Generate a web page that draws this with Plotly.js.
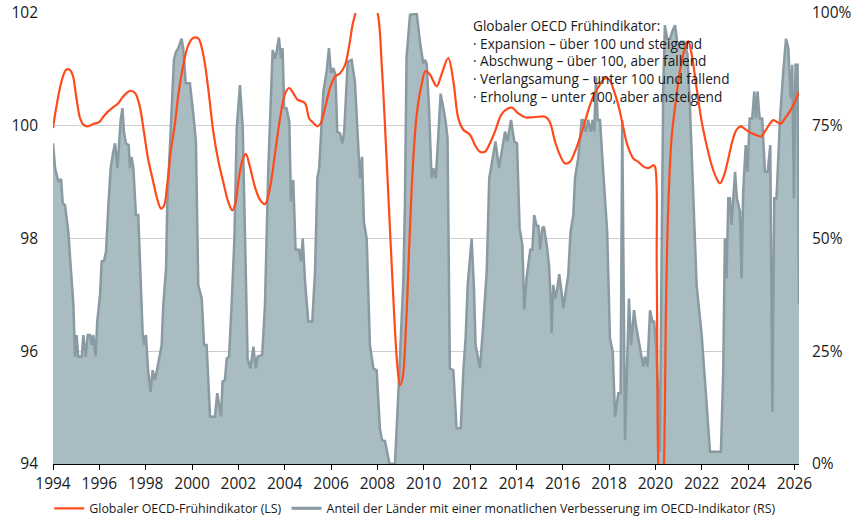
<!DOCTYPE html>
<html>
<head>
<meta charset="utf-8">
<script src="https://cdn.plot.ly/plotly-3.0.1.min.js"></script>
<style>html,body{margin:0;padding:0;background:#fff;}#chart{width:852px;height:519px;}</style>
</head>
<body>
<div id="chart"></div>
<script>
// Globaler OECD-Frühindikator (LS) (values beyond the axis range are estimates)
const cliYears = [1994.0,1994.16,1994.37,1994.56,1994.7,1994.85,1994.99,1995.17,1995.31,1995.48,1995.74,1996.0,1996.17,1996.39,1996.6,1996.82,1997.03,1997.32,1997.54,1997.73,1997.9,1998.11,1998.33,1998.5,1998.66,1998.79,1998.93,1999.07,1999.26,1999.41,1999.62,1999.84,2000.06,2000.27,2000.49,2000.7,2000.92,2001.14,2001.35,2001.57,2001.74,2001.86,2002.0,2002.17,2002.32,2002.5,2002.72,2002.93,2003.15,2003.37,2003.58,2003.8,2004.01,2004.19,2004.37,2004.56,2004.7,2004.88,2005.06,2005.24,2005.41,2005.55,2005.74,2005.95,2006.17,2006.39,2006.6,2006.79,2006.93,2007.08,2007.5,2008.0,2008.19,2008.37,2008.55,2008.72,2008.86,2008.98,2009.09,2009.24,2009.38,2009.52,2009.7,2009.91,2010.08,2010.27,2010.56,2010.77,2011.06,2011.28,2011.49,2011.71,2012.0,2012.21,2012.43,2012.64,2012.86,2013.08,2013.36,2013.65,2013.82,2014.08,2014.37,2014.66,2014.95,2015.24,2015.43,2015.67,2015.88,2016.1,2016.31,2016.53,2016.74,2016.96,2017.18,2017.39,2017.61,2017.82,2018.01,2018.18,2018.4,2018.59,2018.79,2019.05,2019.26,2019.48,2019.69,2019.84,2019.91,2019.98,2020.06,2020.13,2020.25,2020.37,2020.46,2020.56,2020.7,2020.87,2021.06,2021.28,2021.42,2021.57,2021.78,2022.0,2022.21,2022.43,2022.64,2022.79,2022.97,2023.15,2023.32,2023.51,2023.69,2023.9,2024.13,2024.37,2024.56,2024.73,2024.95,2025.09,2025.23,2025.42,2025.59,2025.81,2026.03,2026.2];
const cliValues = [99.96,100.37,100.79,100.99,101.0,100.9,100.55,100.13,100.02,99.99,100.03,100.07,100.16,100.26,100.33,100.4,100.52,100.62,100.58,100.37,99.96,99.4,99.0,98.7,98.53,98.58,98.95,99.5,100.03,100.55,101.07,101.43,101.56,101.55,101.25,100.66,99.89,99.37,99.0,98.64,98.5,98.6,99.0,99.38,99.5,99.27,98.91,98.69,98.61,98.91,99.5,100.13,100.56,100.67,100.58,100.46,100.44,100.4,100.13,100.05,99.99,100.04,100.31,100.66,100.87,100.93,101.07,101.43,101.79,102.03,102.6,102.03,101.07,99.66,98.12,96.7,95.76,95.4,95.53,96.47,97.89,99.19,100.2,100.73,100.97,100.91,100.7,100.91,101.2,100.79,100.14,99.93,99.84,99.66,99.54,99.54,99.69,99.9,100.2,100.31,100.32,100.22,100.15,100.15,100.16,100.16,100.08,99.72,99.48,99.33,99.36,99.54,99.78,100.07,100.37,100.58,100.73,100.84,100.82,100.66,100.37,100.02,99.66,99.42,99.36,99.28,99.25,99.28,99.3,99.28,97.41,93.98,93.0,94.0,96.82,98.6,99.78,100.4,100.97,101.38,101.5,101.26,100.67,100.07,99.66,99.3,99.07,98.98,99.13,99.42,99.72,99.93,99.99,99.93,99.87,99.83,99.81,99.9,100.04,100.1,100.07,100.04,100.13,100.26,100.43,100.6];

// Anteil der Länder mit einer monatlichen Verbesserung im OECD-Indikator (RS), in %
const shareYears = [1994.0,1994.09,1994.23,1994.35,1994.42,1994.52,1994.66,1994.76,1994.88,1994.95,1995.02,1995.09,1995.24,1995.31,1995.41,1995.5,1995.6,1995.67,1995.74,1995.84,1995.91,1996.03,1996.1,1996.2,1996.29,1996.39,1996.49,1996.6,1996.68,1996.78,1996.85,1996.92,1997.0,1997.06,1997.15,1997.27,1997.32,1997.39,1997.47,1997.58,1997.68,1997.78,1997.87,1997.94,1998.01,1998.11,1998.21,1998.3,1998.4,1998.5,1998.69,1998.76,1998.88,1998.93,1999.05,1999.14,1999.22,1999.31,1999.41,1999.55,1999.62,1999.73,1999.91,2000.06,2000.17,2000.27,2000.42,2000.52,2000.63,2000.78,2000.99,2001.09,2001.18,2001.25,2001.32,2001.42,2001.5,2001.6,2001.71,2001.83,2001.93,2002.07,2002.19,2002.29,2002.4,2002.52,2002.65,2002.75,2002.83,2003.03,2003.15,2003.29,2003.48,2003.58,2003.65,2003.75,2003.84,2003.91,2003.98,2004.08,2004.2,2004.27,2004.37,2004.47,2004.62,2004.7,2004.78,2004.88,2005.02,2005.19,2005.31,2005.41,2005.49,2005.67,2005.81,2005.91,2006.0,2006.1,2006.19,2006.27,2006.39,2006.49,2006.57,2006.72,2006.89,2007.03,2007.25,2007.34,2007.42,2007.54,2007.68,2007.83,2007.97,2008.11,2008.2,2008.33,2008.43,2008.52,2008.76,2008.86,2008.95,2009.03,2009.12,2009.19,2009.26,2009.41,2009.7,2009.84,2009.98,2010.06,2010.13,2010.23,2010.34,2010.41,2010.52,2010.6,2010.73,2010.85,2010.95,2011.03,2011.13,2011.28,2011.42,2011.6,2011.71,2011.81,2011.9,2012.07,2012.17,2012.24,2012.43,2012.57,2012.72,2012.83,2012.93,2013.1,2013.25,2013.39,2013.51,2013.61,2013.77,2013.91,2014.03,2014.14,2014.26,2014.34,2014.44,2014.6,2014.69,2014.77,2014.88,2014.95,2015.03,2015.12,2015.19,2015.31,2015.41,2015.49,2015.52,2015.59,2015.69,2015.77,2015.85,2015.95,2016.03,2016.13,2016.24,2016.34,2016.46,2016.53,2016.67,2016.82,2016.89,2017.0,2017.1,2017.21,2017.29,2017.36,2017.44,2017.51,2017.61,2017.75,2017.92,2018.04,2018.16,2018.26,2018.4,2018.5,2018.57,2018.69,2018.86,2018.95,2019.08,2019.16,2019.33,2019.48,2019.55,2019.66,2019.77,2019.87,2019.95,2020.04,2020.14,2020.19,2020.34,2020.41,2020.51,2020.63,2020.74,2020.85,2020.96,2021.1,2021.25,2021.39,2021.49,2021.64,2021.78,2022.0,2022.14,2022.26,2022.36,2022.83,2022.93,2023.0,2023.07,2023.15,2023.22,2023.29,2023.36,2023.44,2023.52,2023.65,2023.72,2023.79,2023.9,2023.98,2024.07,2024.18,2024.27,2024.34,2024.41,2024.5,2024.61,2024.73,2024.85,2024.96,2025.05,2025.13,2025.23,2025.38,2025.52,2025.64,2025.74,2025.84,2025.91,2025.98,2026.05,2026.14,2026.2];
const shareValues = [71.1,65.6,62.6,63.2,57.8,57.4,51.5,44.9,35.3,23.8,28.6,23.8,23.8,28.6,23.8,28.6,28.6,26.4,28.6,23.8,31.6,37.5,44.9,45.0,47.1,57.4,65.6,69.2,71.1,65.6,70.7,76.3,78.9,73.7,71.1,70.7,65.6,68.1,65.6,55.2,55.2,42.6,29.0,26.4,28.6,20.5,16.0,20.8,18.6,21.1,26.4,35.3,43.4,57.4,70.0,81.1,89.6,91.4,92.2,94.3,92.2,84.4,84.4,77.4,71.5,39.7,36.7,26.4,26.4,10.5,10.5,15.7,13.1,10.5,18.3,18.6,23.4,23.8,35.3,50.0,74.4,84.0,74.4,50.8,23.4,21.2,26.0,21.2,23.8,24.2,35.3,65.0,91.8,89.9,91.4,94.6,89.9,92.2,78.9,78.9,75.9,58.2,63.0,47.5,47.5,44.9,50.0,40.4,31.6,31.6,42.6,63.4,65.6,82.6,87.0,92.2,86.7,87.8,86.3,73.7,73.3,71.1,73.7,89.2,89.6,84.8,63.4,68.1,53.7,50.0,26.4,21.2,20.8,7.9,5.3,5.1,2.7,0.1,0.0,9.4,20.5,30.1,40.4,57.4,90.2,99.6,99.9,93.6,88.8,89.6,88.8,78.9,63.4,65.6,63.4,70.0,82.1,78.9,75.9,72.2,21.2,20.8,7.9,7.9,20.5,27.9,39.7,50.0,39.0,26.4,21.2,30.8,42.6,63.4,66.3,71.5,65.6,70.0,73.7,71.5,76.3,71.5,71.1,52.3,48.6,34.2,41.2,47.5,47.5,55.2,52.6,53.0,47.5,52.3,52.6,48.6,44.1,35.3,29.0,39.7,36.7,39.0,42.1,38.2,34.5,38.2,41.9,51.5,55.2,63.4,67.8,76.3,76.3,73.7,76.3,73.7,76.3,73.7,85.9,76.3,76.3,64.8,51.5,27.9,24.9,10.5,15.7,15.7,76.3,5.3,36.7,26.4,34.1,30.8,25.6,21.6,23.8,21.6,34.1,31.6,31.6,25.3,12.7,2.7,83.3,97.3,94.3,94.3,96.0,97.3,92.9,93.6,93.6,90.7,79.6,57.4,39.7,28.6,19.0,9.4,2.7,2.7,20.5,50.0,41.2,58.9,58.9,53.0,58.9,64.8,58.9,56.0,41.2,60.4,70.7,64.8,76.6,76.6,82.6,76.6,82.6,76.6,76.6,64.8,64.8,70.7,11.6,58.9,58.9,76.6,87.0,94.3,92.2,81.1,88.5,58.9,88.5,88.5,35.3];

const xTickVals = [1994,1996,1998,2000,2002,2004,2006,2008,2010,2012,2014,2016,2018,2020,2022,2024,2026];
const leftTickVals = [94,96,98,100,102];
const rightTickVals = [0,25,50,75,100];
const rightTickText = ['0%','25%','50%','75%','100%'];

const nameCli = 'Globaler OECD-Frühindikator (LS)';
const nameShare = 'Anteil der Länder mit einer monatlichen Verbesserung im OECD-Indikator (RS)';
const noteLines = ['Globaler OECD Frühindikator:',
  '· Expansion – über 100 und steigend',
  '· Abschwung – über 100, aber fallend',
  '· Verlangsamung – unter 100 und fallend',
  '· Erholung – unter 100, aber ansteigend'];

const FONT = '"Open Sans", "Noto Sans", sans-serif';
const RED = '#ff4a1c';
const GREYLINE = '#8a9aa2';
const GREYFILL = '#a8bcc1';
const TXT = '#1a1a1a';

const traces = [
  {x: shareYears, y: shareValues, yaxis: 'y', type: 'scatter', mode: 'lines',
   fill: 'tozeroy', fillcolor: GREYFILL, line: {color: GREYLINE, width: 2.5},
   showlegend: false, hoverinfo: 'skip'},
  {x: cliYears, y: cliValues, yaxis: 'y2', type: 'scatter', mode: 'lines',
   line: {color: RED, width: 2.2, shape: 'spline', smoothing: 1}, name: nameCli},
  {x: [null], y: [null], yaxis: 'y', type: 'scatter', mode: 'lines',
   line: {color: GREYLINE, width: 3}, name: nameShare}
];

const layout = {
  width: 852, height: 519,
  margin: {l: 53, r: 53, t: 13, b: 55, autoexpand: false},
  paper_bgcolor: '#ffffff', plot_bgcolor: '#ffffff',
  font: {family: FONT, color: TXT},
  showlegend: true,
  legend: {orientation: 'h', x: -0.005, xanchor: 'left', y: -0.066, yanchor: 'top',
           font: {size: 12.4, family: FONT, color: TXT}, itemwidth: 30,
           traceorder: 'normal', bgcolor: 'rgba(0,0,0,0)'},
  xaxis: {range: [1994, 2026.2], tickvals: xTickVals, ticktext: xTickVals.map(String),
          showgrid: false, zeroline: false, showline: true, linecolor: '#000', linewidth: 1,
          ticks: 'outside', ticklen: 5, tickcolor: '#000',
          tickfont: {size: 15.5, family: FONT, color: TXT}},
  yaxis: {range: [0, 100], side: 'right', tickvals: rightTickVals, ticktext: rightTickText,
          showgrid: true, gridcolor: '#cfcfcf', gridwidth: 1, zeroline: false, showline: false,
          ticks: '', ticklabelstandoff: 12,
          tickfont: {size: 15.5, family: FONT, color: TXT}},
  yaxis2: {range: [94, 102], side: 'left', overlaying: 'y', tickvals: leftTickVals,
           ticktext: leftTickVals.map(String), showgrid: false, zeroline: false, showline: false,
           ticks: '', ticklabelstandoff: 14,
           tickfont: {size: 15.5, family: FONT, color: TXT}},
  annotations: [{xref: 'paper', yref: 'paper', x: 0.5605, y: 0.998, xanchor: 'left', yanchor: 'top',
                 align: 'left', showarrow: false, text: noteLines.join('<br>'),
                 font: {size: 13.6, family: FONT, color: TXT}}]
};

Plotly.newPlot('chart', traces, layout, {displayModeBar: false, staticPlot: true});
</script>
</body>
</html>
